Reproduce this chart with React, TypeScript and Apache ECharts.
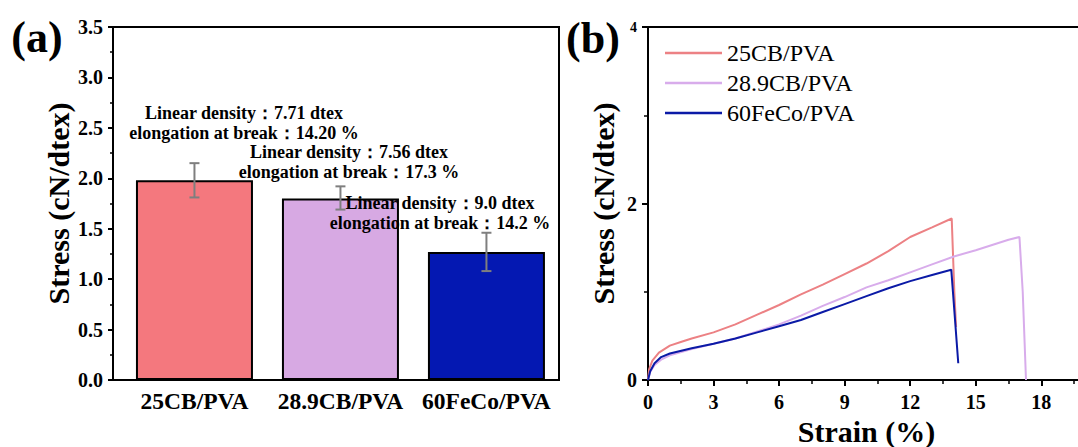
import { useEffect, useRef } from 'react';
import * as echarts from 'echarts';

// ---------- data ----------
const categories = ['25CB/PVA', '28.9CB/PVA', '60FeCo/PVA'];
const stressMean = [1.98, 1.8, 1.27];
const stressLow = [1.81, 1.69, 1.08];
const stressHigh = [2.15, 1.92, 1.46];
const annotationTexts = [
  'Linear density：7.71 dtex\nelongation at break：14.20 %',
  'Linear density：7.56 dtex\nelongation at break：17.3 %',
  'Linear density：9.0 dtex\nelongation at break：14.2 %',
];

const seriesNames = ['25CB/PVA', '28.9CB/PVA', '60FeCo/PVA'];
const curve25CB: number[][] = [
  [0, 0], [0.05, 0.12], [0.2, 0.22], [0.5, 0.31], [1.0, 0.39], [1.5, 0.43], [2, 0.47],
  [3, 0.54], [4, 0.63], [5, 0.74], [6, 0.85], [7, 0.97], [8, 1.08], [9, 1.2],
  [10, 1.32], [11, 1.46], [12, 1.62], [13, 1.73], [13.9, 1.83], [14.02, 1.0], [14.1, 0.6],
];
const curve289CB: number[][] = [
  [0, 0], [0.1, 0.09], [0.3, 0.17], [0.6, 0.23], [1, 0.28], [2, 0.35], [3, 0.41],
  [4, 0.47], [5, 0.55], [6, 0.63], [7, 0.73], [8, 0.84], [9, 0.94], [10, 1.05],
  [11, 1.13], [12, 1.22], [13, 1.31], [14, 1.4], [15, 1.47], [16, 1.55], [16.5, 1.59],
  [17.0, 1.62], [17.15, 1.0], [17.3, 0],
];
const curve60FeCo: number[][] = [
  [0, 0], [0.1, 0.1], [0.3, 0.19], [0.6, 0.26], [1, 0.3], [2, 0.36], [3, 0.41],
  [4, 0.47], [5, 0.54], [6, 0.61], [7, 0.68], [8, 0.77], [9, 0.86], [10, 0.95],
  [11, 1.04], [12, 1.12], [13, 1.19], [13.88, 1.25], [14.2, 0.19],
];

// ---------- styles ----------
const FONT = 'Liberation Serif, Times New Roman, serif';
const barColors = ['#F4787E', '#D7A9E3', '#0418B2'];
const lineColors = ['#EC8184', '#D8ACEB', '#0B1AA6'];
const axisLineStyle = { color: '#000', width: 2 };

const textStyle = (size: number, weight: string = 'bold') => ({
  fontFamily: FONT,
  fontWeight: weight,
  fontSize: size,
  color: '#000',
});

export default function App() {
  const ref = useRef<HTMLDivElement>(null);

  useEffect(() => {
    const chart = echarts.init(ref.current!, null, { renderer: 'svg' });
    const gText = (text: string, x: number, y: number, size: number, lineHeight?: number) => ({
      type: 'text',
      x,
      y,
      z: 100,
      style: {
        text,
        fontFamily: FONT,
        fontWeight: 'bold',
        fontSize: size,
        lineHeight: lineHeight ?? size,
        fill: '#000',
        textAlign: 'center',
        textVerticalAlign: 'middle',
      },
    });
    const option: any = {
      animation: false,
      backgroundColor: '#fff',
      grid: [
        {
          left: 113, top: 27, width: 446, height: 353,
          show: true, borderColor: '#000', borderWidth: 2,
          containLabel: false, outerBoundsMode: 'none',
        },
        {
          left: 648, top: 27, width: 437, height: 353,
          show: true, borderColor: '#000', borderWidth: 2,
          containLabel: false, outerBoundsMode: 'none',
        },
      ],
      xAxis: [
        {
          gridIndex: 0,
          type: 'value',
          min: 0.442,
          max: 3.497,
          axisLine: { show: true, onZero: false, lineStyle: axisLineStyle },
          axisTick: { show: false },
          splitLine: { show: false },
          axisLabel: {
            customValues: [1, 2, 3],
            formatter: (v: number) => categories[Math.round(v) - 1] ?? '',
            ...textStyle(23.5),
            margin: 9,
          },
        },
        {
          gridIndex: 1,
          type: 'value',
          min: 0,
          max: 20,
          interval: 3,
          axisLine: { show: true, onZero: false, lineStyle: axisLineStyle },
          axisTick: { show: true, inside: false, length: 6, lineStyle: { color: '#000', width: 2 } },
          minorTick: { show: true, splitNumber: 2, length: 4, lineStyle: { color: '#000', width: 1.5 } },
          splitLine: { show: false },
          axisLabel: { showMaxLabel: false, ...textStyle(20), margin: 12 },
          name: 'Strain (%)',
          nameLocation: 'middle',
          nameGap: 35,
          nameTextStyle: textStyle(30),
        },
      ],
      yAxis: [
        {
          gridIndex: 0,
          type: 'value',
          min: 0,
          max: 3.5,
          interval: 0.5,
          axisLine: { show: true, onZero: false, lineStyle: axisLineStyle },
          axisTick: { show: true, inside: false, length: 5, lineStyle: { color: '#000', width: 2 } },
          minorTick: { show: true, splitNumber: 2, length: 3, lineStyle: { color: '#000', width: 1.5 } },
          splitLine: { show: false },
          axisLabel: { formatter: (v: number) => v.toFixed(1), ...textStyle(20), margin: 10 },
          name: 'Stress (cN/dtex)',
          nameLocation: 'middle',
          nameGap: 40,
          nameTextStyle: textStyle(30),
        },
        {
          gridIndex: 1,
          type: 'value',
          min: 0,
          max: 4,
          interval: 2,
          axisLine: { show: true, onZero: false, lineStyle: axisLineStyle },
          axisTick: { show: true, inside: false, length: 6, lineStyle: { color: '#000', width: 2 } },
          minorTick: { show: true, splitNumber: 2, length: 4, lineStyle: { color: '#000', width: 1.5 } },
          splitLine: { show: false },
          axisLabel: {
            formatter: (v: number) => (v === 4 ? '{s|' + v + '}' : '{n|' + v + '}'),
            margin: 11,
            rich: { s: textStyle(14), n: textStyle(20) },
          },
          name: 'Stress (cN/dtex)',
          nameLocation: 'middle',
          nameGap: 30,
          nameTextStyle: textStyle(30),
        },
      ],
      legend: {
        data: seriesNames,
        orient: 'vertical',
        left: 660,
        top: 36,
        icon: 'rect',
        itemWidth: 57,
        itemHeight: 2.5,
        itemGap: 6,
        textStyle: { ...textStyle(24, 'normal'), lineHeight: 24 },
      },
      series: [
        {
          type: 'bar',
          xAxisIndex: 0,
          yAxisIndex: 0,
          barWidth: 117,
          itemStyle: { borderColor: '#000', borderWidth: 2 },
          data: stressMean.map((v, i) => ({ value: [i + 1, v], itemStyle: { color: barColors[i] } })),
        },
        {
          type: 'custom',
          xAxisIndex: 0,
          yAxisIndex: 0,
          z: 10,
          data: stressMean.map((_, i) => [i + 1, stressLow[i], stressHigh[i]]),
          renderItem: (_params: any, api: any) => {
            const x = api.value(0);
            const lo = api.coord([x, api.value(1)]);
            const hi = api.coord([x, api.value(2)]);
            const w = 5;
            const style = { stroke: '#7f7f7f', lineWidth: 2 };
            return {
              type: 'group',
              children: [
                { type: 'line', shape: { x1: hi[0], y1: hi[1], x2: lo[0], y2: lo[1] }, style },
                { type: 'line', shape: { x1: hi[0] - w, y1: hi[1], x2: hi[0] + w, y2: hi[1] }, style },
                { type: 'line', shape: { x1: lo[0] - w, y1: lo[1], x2: lo[0] + w, y2: lo[1] }, style },
              ],
            };
          },
        },
        ...[curve25CB, curve289CB, curve60FeCo].map((d, i) => ({
          type: 'line',
          name: seriesNames[i],
          xAxisIndex: 1,
          yAxisIndex: 1,
          symbol: 'none',
          showSymbol: false,
          lineStyle: { color: lineColors[i], width: 2 },
          itemStyle: { color: lineColors[i] },
          data: d,
        })),
      ],
      graphic: [
        gText('(a)', 37, 37, 44),
        gText('(b)', 593, 38, 44),
        gText(annotationTexts[0], 244, 123, 18, 20),
        gText(annotationTexts[1], 349, 162, 18, 20),
        gText(annotationTexts[2], 440, 213, 18, 20),
      ],
    };
    chart.setOption(option);
    return () => chart.dispose();
  }, []);

  return (
    <div
      ref={ref}
      style={{ position: 'fixed', left: 0, top: 0, width: 1078, height: 447, background: '#fff' }}
    />
  );
}
